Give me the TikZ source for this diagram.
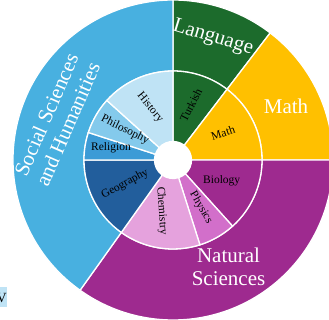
\documentclass[tikz,border=0pt]{standalone}
\usepackage{fontspec}
\setmainfont{Liberation Serif}
\definecolor{socblue}{HTML}{48B0E0}
\definecolor{histblue}{HTML}{BFE3F5}
\definecolor{philblue}{HTML}{84CAEC}
\definecolor{relblue}{HTML}{3C9BD6}
\definecolor{geoblue}{HTML}{225E9C}
\definecolor{langgreen}{HTML}{1C6B2C}
\definecolor{mathyellow}{HTML}{FFC000}
\definecolor{natpurple}{HTML}{9E2A8F}
\definecolor{physpink}{HTML}{D26FCA}
\definecolor{chempink}{HTML}{E5A2DD}
\def\Rhole{18.5}
\def\Rmid{89}
\def\Rout{160}
\tikzset{
  sector/.style={draw=white, line width=1.3},
  outerlbl/.style={text=white, font=\fontsize{21}{23.5}\selectfont, align=center, inner sep=0},
  innerlbl/.style={text=black, font=\fontsize{11.5}{13}\selectfont, inner sep=0}
}

\begin{document}
\begin{tikzpicture}[x=1pt,y=1pt]
 \useasboundingbox (-173,-160) rectangle (156,160);
 \coordinate (O) at (0,0);

 % outer ring
 \foreach \a/\b/\c in {52.6/90/langgreen, 0/52.6/mathyellow, -125.5/0/natpurple, 90/234.5/socblue} {
   \filldraw[sector, fill=\c] (\a:\Rmid) arc[start angle=\a, end angle=\b, radius=\Rmid]
     -- (\b:\Rout) arc[start angle=\b, end angle=\a, radius=\Rout] -- cycle;
 }

 % inner ring
 \foreach \a/\b/\c in {52.6/90/langgreen, 0/52.6/mathyellow, -48/0/natpurple, -72.4/-48/physpink,
     -125.5/-72.4/chempink, 180/234.5/geoblue, 162/180/relblue, 138/162/philblue, 90/138/histblue} {
   \filldraw[sector, fill=\c] (\a:\Rhole) arc[start angle=\a, end angle=\b, radius=\Rhole]
     -- (\b:\Rmid) arc[start angle=\b, end angle=\a, radius=\Rmid] -- cycle;
 }
 \fill[white] (O) circle (\Rhole);

 % outer labels
 \node[outerlbl, rotate=-17] (lang) at (40,122) {Language};
 \node[outerlbl] (mathout) at (113,54) {Math};
 \node[outerlbl, rotate=66.5] (soc) at (-116,40.5) {Social Sciences\\and Humanities};
 \node[outerlbl] (nat) at (55.5,-107) {Natural\\Sciences};

 % inner labels
 \node[innerlbl, rotate=-50.5] (hist) at (-23,52.5) {History};
 \node[innerlbl, rotate=-26.6] (phil) at (-48,30) {Philosophy};
 \node[innerlbl] (rel) at (-62,12) {Religion};
 \node[innerlbl, rotate=28] (geo) at (-48,-24) {Geography};
 \node[innerlbl, rotate=-86] (chem) at (-11.3,-51) {Chemistry};
 \node[innerlbl, rotate=-60] (phys) at (28,-47.5) {Physics};
 \node[innerlbl] (bio) at (48.7,-21) {Biology};
 \node[innerlbl, rotate=18] (mathin) at (50,27) {Math};
 \node[innerlbl, rotate=63] (turk) at (18,55) {Turkish};

 % cut legend entry
 \fill[histblue] (-180,-127) rectangle (-165.7,-147);
 \node[inner sep=0, anchor=base east, font=\fontsize{14}{14}\selectfont] (legv) at (-166,-143) {V};
\end{tikzpicture}
\end{document}
